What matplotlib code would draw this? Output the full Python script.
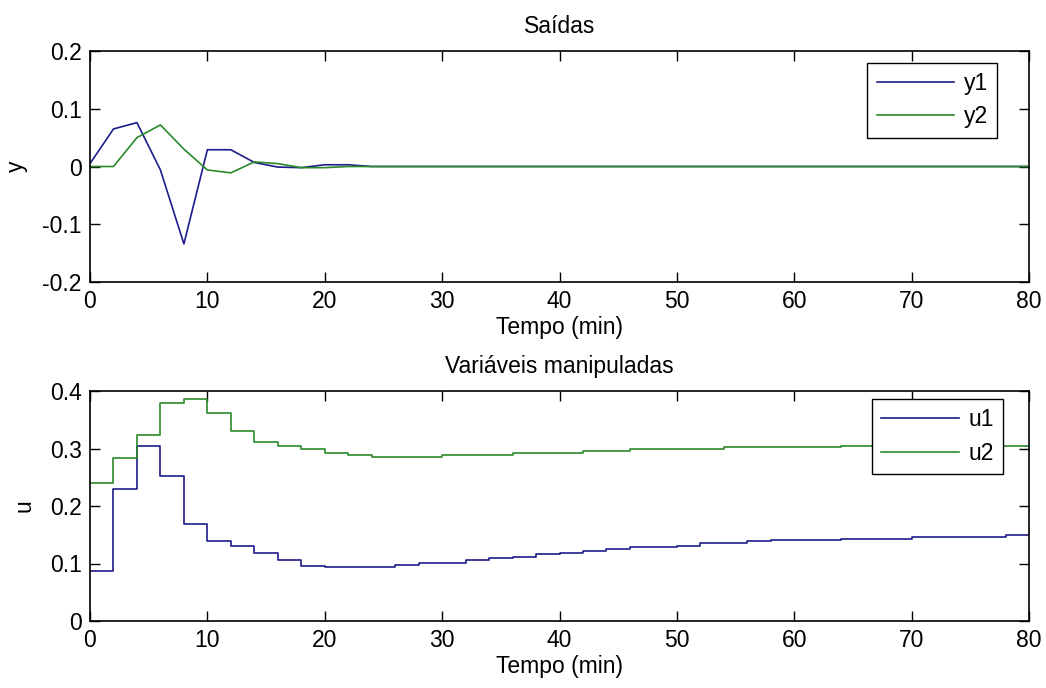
import numpy as np
import matplotlib
matplotlib.use("Agg")
import matplotlib.pyplot as plt

# saidas (amostras a cada 2 min)
t_y = np.arange(0, 81, 2)
y1 = [0.005, 0.065, 0.076, -0.006, -0.134, 0.029, 0.029, 0.007, -0.001, -0.002,
      0.003, 0.003] + [0.0] * 29
y2 = [0.0, 0.0, 0.050, 0.072, 0.030, -0.006, -0.011, 0.008, 0.005, -0.002,
      -0.002, 0.0] + [0.0] * 29

# variaveis manipuladas (segurador de ordem zero, 2 min)
t_u = np.arange(0, 81, 2)
u1 = [0.0877, 0.229, 0.305, 0.2526, 0.168, 0.140, 0.1307, 0.118, 0.106, 0.0958,
      0.0935, 0.0935, 0.0935, 0.097, 0.1005, 0.1005, 0.106, 0.109, 0.112, 0.116,
      0.119, 0.122, 0.1254, 0.128, 0.128, 0.131, 0.135, 0.135, 0.1388, 0.141,
      0.141, 0.141, 0.1434, 0.1434, 0.1434, 0.1458, 0.1458, 0.1458, 0.1458, 0.1498,
      0.1498]
u2 = [0.240, 0.2834, 0.3229, 0.379, 0.386, 0.362, 0.331, 0.311, 0.3037, 0.299,
      0.293, 0.289, 0.286, 0.286, 0.286, 0.2887, 0.2887, 0.2887, 0.292, 0.292,
      0.292, 0.296, 0.296, 0.2997, 0.2997, 0.2997, 0.2997, 0.3026, 0.3026, 0.3026,
      0.3026, 0.3026, 0.305, 0.305, 0.305, 0.305, 0.305, 0.305, 0.305, 0.305,
      0.305]

blue = '#1c1c8a'
green = '#2a8a2a'
FS = 16.5

plt.rcParams['font.family'] = ['Liberation Sans', 'DejaVu Sans']
plt.rcParams['font.size'] = FS

fig = plt.figure(figsize=(10.46, 6.88), dpi=100)
ax1 = fig.add_axes([90/1046, 1-282/688, 939/1046, 231/688])
ax2 = fig.add_axes([90/1046, 1-621/688, 939/1046, 230/688])


def style(ax):
    ax.set_xlim(0, 80)
    ax.set_xticks(np.arange(0, 81, 10))
    ax.tick_params(direction='in', top=True, right=True, length=7, width=1,
                   pad=6, labelsize=FS)
    for s in ax.spines.values():
        s.set_linewidth(1.2)
    ax.set_xlabel('Tempo (min)', labelpad=2)


def legenda(ax, anchor):
    leg = ax.legend(loc='upper right', bbox_to_anchor=anchor, borderaxespad=0,
                    fancybox=False, edgecolor='black', framealpha=1,
                    handlelength=3.4, handletextpad=0.4, borderpad=0.4,
                    labelspacing=0.45, fontsize=FS)
    leg.get_frame().set_linewidth(1.0)


ax1.plot(t_y, y1, color=blue, lw=1.2, label='y1')
ax1.plot(t_y, y2, color=green, lw=1.2, label='y2')
ax1.set_ylim(-0.2, 0.2)
ax1.set_yticks([-0.2, -0.1, 0, 0.1, 0.2])
ax1.set_yticklabels(['-0.2', '-0.1', '0', '0.1', '0.2'])
style(ax1)
ax1.set_ylabel('y', labelpad=10)
ax1.set_title('Saídas', pad=13, fontsize=FS)
legenda(ax1, (0.966, 0.948))

ax2.step(t_u, u1, where='post', color=blue, lw=1.2, label='u1')
ax2.step(t_u, u2, where='post', color=green, lw=1.2, label='u2')
ax2.set_ylim(0, 0.4)
ax2.set_yticks([0, 0.1, 0.2, 0.3, 0.4])
ax2.set_yticklabels(['0', '0.1', '0.2', '0.3', '0.4'])
style(ax2)
ax2.set_ylabel('u', labelpad=10)
ax2.set_title('Variáveis manipuladas', pad=13, fontsize=FS)
legenda(ax2, (0.972, 0.965))

fig.savefig('out.png', dpi=100)
